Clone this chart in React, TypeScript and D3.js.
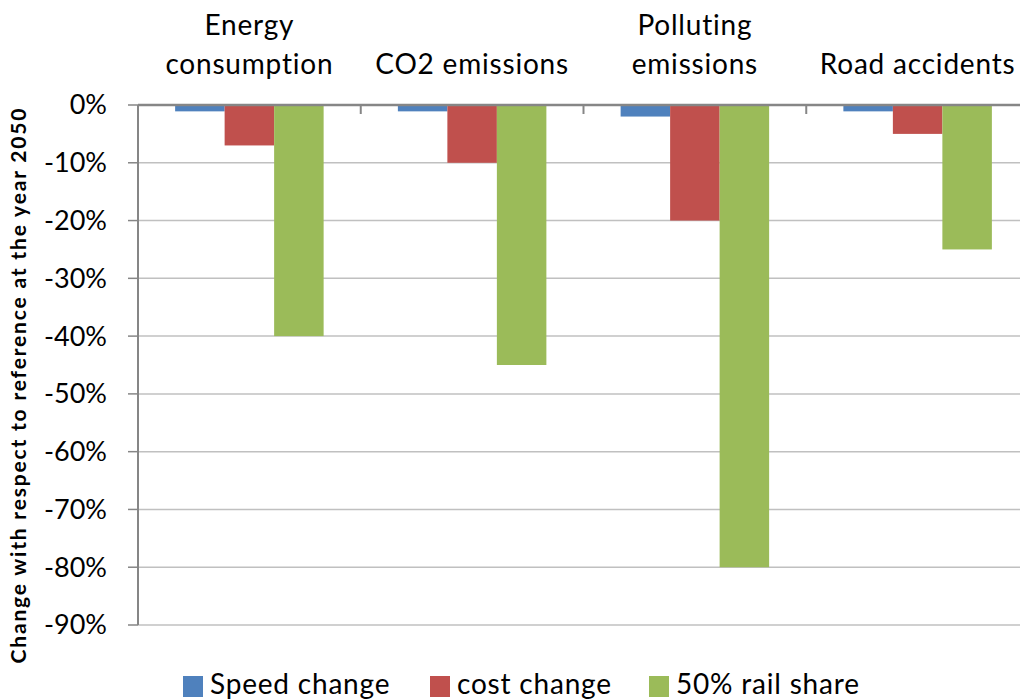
import React from "react";
import * as d3 from "d3";

const categories = [["Energy", "consumption"], ["CO2 emissions"], ["Polluting", "emissions"], ["Road accidents"]];
const seriesNames = ["Speed change", "cost change", "50% rail share"];
const seriesColors = ["#4F81BD", "#C0504D", "#9BBB59"];
const speedChange = [-0.011, -0.011, -0.02, -0.011];
const costChange = [-0.07, -0.10, -0.20, -0.05];
const railShare = [-0.40, -0.45, -0.80, -0.25];
const yTicks = [0, -0.1, -0.2, -0.3, -0.4, -0.5, -0.6, -0.7, -0.8, -0.9];
const yTitle = "Change with respect to reference at the year 2050";

const W = 1020, H = 700;
const FONT = "Lato, 'Open Sans', sans-serif";

export default function App() {
  const series = [speedChange, costChange, railShare];
  const left = 138, right = 1029, top = 105, bottom = 625;
  const x = d3.scaleBand<number>().domain(d3.range(categories.length)).range([left, right]).paddingInner(0).paddingOuter(0);
  const bw = x.bandwidth();
  const barW = bw / 4.5;
  const y = d3.scaleLinear().domain([0, -0.9]).range([top, bottom]);
  const fmt = (v: number) => `${Math.round(v * 100)}%`;
  const txtStyle = { fontVariantLigatures: "none" as const };

  return (
    <svg width={W} height={H} style={{ position: "absolute", left: 0, top: 0, background: "#fff", ...txtStyle }} fontFamily={FONT}>
      {/* gridlines */}
      {yTicks.slice(1).map((t) => (
        <line key={t} x1={left} x2={W} y1={y(t)} y2={y(t)} stroke="#C0C0C0" strokeWidth={1.5} />
      ))}
      {/* bars */}
      {series.map((vals, si) =>
        vals.map((v, ci) => (
          <rect key={`${si}-${ci}`} x={(x(ci) as number) + barW * 0.75 + si * barW} y={y(0)} width={barW} height={y(v) - y(0)} fill={seriesColors[si]} />
        ))
      )}
      {/* y axis */}
      <line x1={left} x2={left} y1={top} y2={bottom} stroke="#868686" strokeWidth={2} />
      {yTicks.map((t) => (
        <g key={t}>
          <line x1={left - 10} x2={left} y1={y(t)} y2={y(t)} stroke="#868686" strokeWidth={1.5} />
          <text x={107} y={y(t)} dy="0.35em" textAnchor="end" fontSize={27} fill="#000">{fmt(t)}</text>
        </g>
      ))}
      {/* x axis at 0 */}
      <line x1={left} x2={W} y1={y(0)} y2={y(0)} stroke="#868686" strokeWidth={2.5} />
      {d3.range(1, categories.length).map((i) => (
        <line key={i} x1={x(i) as number} x2={x(i) as number} y1={y(0)} y2={y(0) + 9} stroke="#868686" strokeWidth={2} />
      ))}
      {/* category labels */}
      {categories.map((lines, i) => {
        const cx = (x(i) as number) + bw / 2;
        return (
          <text key={i} x={cx} textAnchor="middle" fontSize={28} letterSpacing={0.8} fill="#000">
            {lines.map((ln, j) => (
              <tspan key={j} x={cx} y={74 - (lines.length - 1 - j) * 39}>{ln}</tspan>
            ))}
          </text>
        );
      })}
      {/* y title */}
      <text transform={`translate(26,386) rotate(-90)`} textAnchor="middle" fontSize={21} fontWeight="bold" fill="#000" textLength={555} lengthAdjust="spacing">{yTitle}</text>
      {/* legend */}
      {seriesNames.map((n, i) => {
        const lx = [183, 430, 649][i];
        return (
          <g key={n}>
            <rect x={lx} y={676} width={20} height={21} fill={seriesColors[i]} />
            <text x={lx + 27} y={694} fontSize={28} letterSpacing={0.8} fill="#000">{n}</text>
          </g>
        );
      })}
    </svg>
  );
}
